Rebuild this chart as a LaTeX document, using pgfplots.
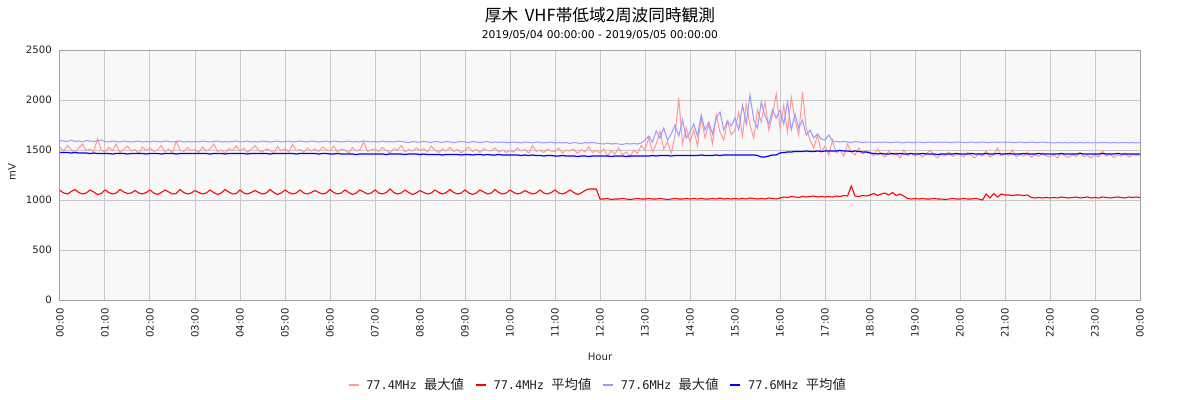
\documentclass[border=0pt]{standalone}
\usepackage{fontspec}
\setmainfont{DejaVu Sans}
\newfontfamily\cjk{Noto Sans CJK JP}
\newfontfamily\mono{DejaVu Sans Mono}
\usepackage{pgfplots}
\usepackage{pgfplotstable}
\pgfplotsset{compat=1.18}
\definecolor{pmax}{HTML}{FF9999}
\definecolor{ravg}{HTML}{FF0000}
\definecolor{bmax}{HTML}{9999FF}
\definecolor{bavg}{HTML}{0000FF}
\definecolor{gridc}{HTML}{C8C8C8}
\definecolor{axc}{HTML}{A0A0A0}
\definecolor{bgc}{HTML}{F8F8F8}
\definecolor{txt}{HTML}{222222}
% columns: p = 77.4MHz max, r = 77.4MHz avg, b = 77.6MHz max, a = 77.6MHz avg ; one row per 5 minutes
\pgfplotstableread{
p r b a
1530 1095 1595 1475
1490 1070 1590 1475
1545 1060 1585 1475
1505 1085 1600 1470
1470 1105 1585 1475
1520 1075 1590 1470
1560 1060 1580 1470
1495 1070 1595 1470
1510 1100 1590 1465
1480 1080 1585 1470
1615 1055 1590 1465
1500 1065 1600 1465
1480 1100 1585 1465
1525 1075 1580 1465
1495 1060 1590 1460
1560 1070 1585 1465
1470 1105 1580 1465
1510 1080 1590 1465
1540 1065 1585 1460
1490 1070 1580 1465
1505 1095 1585 1465
1465 1070 1590 1465
1530 1060 1580 1465
1495 1075 1585 1460
1520 1100 1580 1465
1485 1070 1590 1465
1500 1055 1585 1465
1545 1075 1580 1460
1480 1100 1590 1465
1510 1080 1585 1465
1470 1060 1580 1465
1590 1065 1585 1460
1500 1105 1590 1465
1485 1075 1580 1465
1525 1060 1585 1465
1495 1070 1580 1465
1505 1095 1585 1465
1475 1075 1580 1465
1530 1060 1590 1465
1490 1070 1585 1465
1510 1100 1580 1460
1560 1075 1585 1465
1485 1055 1590 1465
1500 1070 1580 1465
1470 1105 1585 1460
1515 1080 1580 1465
1495 1060 1585 1465
1540 1065 1590 1465
1490 1100 1580 1465
1520 1070 1585 1465
1475 1060 1590 1460
1505 1075 1580 1465
1545 1095 1585 1465
1495 1075 1580 1465
1480 1060 1590 1465
1510 1070 1585 1465
1500 1105 1580 1460
1470 1075 1585 1465
1535 1055 1590 1465
1490 1070 1580 1465
1515 1100 1585 1465
1480 1075 1590 1465
1555 1060 1580 1465
1495 1070 1585 1460
1505 1100 1590 1465
1475 1070 1585 1465
1520 1060 1580 1465
1490 1075 1590 1465
1510 1095 1585 1465
1485 1075 1580 1460
1530 1060 1585 1465
1500 1070 1590 1465
1495 1105 1580 1460
1540 1075 1590 1460
1480 1060 1585 1465
1510 1070 1580 1460
1500 1100 1585 1460
1470 1075 1590 1460
1525 1055 1580 1460
1490 1070 1585 1455
1505 1100 1580 1460
1580 1080 1590 1460
1485 1060 1585 1460
1500 1070 1580 1460
1510 1100 1585 1460
1485 1070 1580 1460
1525 1060 1590 1460
1495 1075 1580 1455
1470 1110 1585 1460
1515 1075 1580 1460
1500 1060 1590 1460
1545 1070 1585 1460
1480 1100 1580 1455
1505 1075 1575 1460
1490 1055 1585 1460
1520 1070 1580 1460
1495 1095 1580 1455
1515 1075 1585 1460
1480 1060 1580 1455
1540 1070 1575 1455
1500 1100 1585 1455
1475 1075 1580 1455
1510 1060 1575 1450
1490 1075 1585 1455
1525 1105 1580 1455
1485 1075 1575 1455
1505 1060 1580 1455
1470 1070 1585 1450
1500 1100 1580 1455
1530 1070 1575 1455
1485 1055 1585 1450
1505 1070 1580 1455
1475 1100 1575 1455
1515 1080 1580 1450
1495 1060 1585 1455
1490 1070 1575 1450
1520 1105 1580 1450
1480 1075 1575 1455
1500 1060 1580 1450
1475 1070 1575 1450
1495 1100 1575 1450
1480 1075 1580 1450
1520 1060 1575 1450
1490 1070 1570 1445
1505 1095 1580 1450
1470 1075 1575 1445
1545 1060 1570 1450
1485 1070 1580 1445
1500 1100 1575 1445
1475 1070 1570 1440
1510 1060 1575 1445
1490 1075 1580 1445
1485 1100 1570 1440
1520 1070 1575 1440
1470 1060 1570 1445
1500 1075 1575 1440
1490 1100 1565 1440
1510 1075 1575 1440
1465 1055 1570 1435
1505 1070 1565 1440
1480 1095 1575 1440
1530 1110 1570 1435
1475 1110 1575 1440
1495 1110 1570 1440
1470 1010 1565 1440
1510 1010 1560 1440
1440 1015 1570 1440
1490 1005 1560 1435
1460 1010 1565 1440
1520 1010 1560 1440
1450 1015 1555 1440
1480 1010 1565 1435
1430 1005 1560 1440
1500 1010 1565 1440
1465 1015 1560 1440
1545 1010 1570 1440
1500 1010 1600 1440
1620 1015 1640 1440
1480 1010 1580 1445
1560 1010 1690 1440
1690 1015 1620 1445
1510 1010 1720 1445
1580 1005 1600 1445
1470 1010 1660 1440
1640 1015 1750 1445
2020 1010 1640 1445
1560 1010 1800 1445
1720 1015 1620 1445
1580 1010 1680 1445
1700 1015 1760 1445
1540 1010 1640 1445
1820 1015 1850 1450
1620 1010 1700 1445
1760 1010 1780 1445
1560 1015 1660 1445
1850 1010 1820 1450
1680 1020 1880 1445
1600 1010 1700 1450
1790 1015 1790 1450
1650 1010 1740 1450
1700 1015 1820 1450
1880 1010 1700 1450
1640 1015 1950 1450
1960 1010 1760 1450
1750 1020 2050 1450
1620 1015 1800 1450
1900 1010 1720 1445
1780 1015 1980 1430
1980 1010 1840 1430
1700 1020 1760 1440
1850 1015 1900 1450
2060 1010 1820 1450
1720 1020 1900 1470
1950 1030 1760 1475
1680 1025 1980 1480
2030 1035 1700 1480
1800 1030 1860 1485
1650 1025 1720 1485
2080 1035 1800 1485
1720 1030 1650 1490
1600 1035 1700 1485
1520 1040 1620 1485
1650 1030 1660 1490
1480 1035 1610 1485
1540 1030 1600 1490
1450 1035 1650 1490
1600 1030 1590 1490
1470 1040 1585 1490
1500 1035 1580 1495
1440 1045 1585 1490
1560 1040 1580 1490
1480 1140 1575 1485
1450 1040 1585 1490
1520 1035 1580 1485
1460 1045 1575 1480
1490 1040 1580 1480
1480 1050 1580 1470
1440 1065 1575 1465
1510 1045 1580 1460
1460 1060 1575 1465
1430 1070 1580 1460
1490 1050 1575 1460
1450 1075 1575 1465
1470 1045 1580 1460
1420 1060 1575 1465
1500 1040 1570 1460
1445 1015 1580 1460
1465 1010 1575 1465
1440 1015 1575 1460
1470 1010 1580 1460
1430 1015 1575 1465
1460 1010 1575 1460
1500 1010 1580 1460
1450 1015 1575 1460
1420 1010 1580 1455
1465 1010 1575 1460
1440 1005 1580 1460
1480 1010 1575 1460
1435 1015 1575 1460
1455 1010 1580 1465
1460 1010 1580 1460
1430 1015 1575 1460
1475 1010 1575 1460
1445 1010 1580 1465
1420 1015 1575 1460
1465 1010 1575 1460
1440 1000 1580 1460
1490 1060 1575 1465
1430 1020 1575 1460
1455 1065 1580 1460
1520 1030 1575 1465
1440 1060 1580 1460
1470 1050 1575 1460
1445 1050 1580 1465
1500 1045 1575 1460
1430 1050 1575 1460
1460 1050 1580 1460
1440 1045 1575 1465
1480 1050 1575 1460
1425 1025 1580 1460
1455 1020 1575 1460
1435 1025 1575 1465
1470 1020 1580 1460
1440 1025 1575 1460
1430 1020 1575 1460
1450 1025 1570 1460
1420 1020 1575 1460
1465 1030 1570 1465
1440 1025 1575 1460
1425 1020 1570 1460
1455 1025 1575 1460
1435 1030 1570 1460
1480 1020 1575 1465
1430 1025 1570 1460
1445 1030 1575 1460
1420 1020 1570 1460
1450 1025 1575 1460
1430 1020 1570 1460
1490 1030 1575 1465
1440 1025 1575 1460
1460 1020 1570 1460
1425 1025 1575 1460
1450 1030 1570 1465
1440 1025 1575 1460
1470 1020 1575 1460
1430 1030 1570 1460
1455 1025 1575 1460
1445 1030 1570 1460
1450 1025 1575 1460
}\data
\begin{document}
\begin{tikzpicture}
\path[use as bounding box] (-45pt,-75pt) rectangle (855pt,225pt);
\begin{axis}[
  at={(0pt,0pt)}, anchor=south west,
  width=810pt, height=187.5pt, scale only axis=true,
  xmin=0, xmax=24, ymin=0, ymax=2500,
  xtick={0,1,...,24},
  xticklabels={00:00,01:00,02:00,03:00,04:00,05:00,06:00,07:00,08:00,09:00,10:00,11:00,12:00,13:00,14:00,15:00,16:00,17:00,18:00,19:00,20:00,21:00,22:00,23:00,00:00},
  ytick={0,500,...,2500},
  /pgf/number format/1000 sep={},
  /pgf/number format/assume math mode=true,
  major tick length=0pt,
  grid=major,
  major grid style={draw=gridc, line width=0.75pt},
  axis line style={draw=axc, line width=0.75pt},
  axis background/.style={fill=bgc},
  tick label style={font=\fontsize{7.6}{9}\selectfont, text=txt},
  xticklabel style={rotate=90, anchor=east, inner sep=0pt},
  yticklabel style={anchor=east, inner sep=0pt},
  xticklabel shift=6pt,
  yticklabel shift=6pt,
  xlabel={Hour},
  xlabel style={at={(axis description cs:0.5,-0.228)}, anchor=center, font=\fontsize{7.6}{9}\selectfont, text=txt},
  ylabel={mV},
  ylabel style={at={(axis description cs:-0.0444,0.512)}, anchor=center, rotate=0, font=\fontsize{7.6}{9}\selectfont, text=txt},
  legend columns=4,
  legend style={at={(axis description cs:0.5,-0.34)}, anchor=center, draw=none, fill=none,
    font=\fontsize{9}{10}\selectfont, text=txt,
    nodes={inner xsep=5pt},
    /tikz/every even column/.append style={column sep=3pt}},
  legend image code/.code={\draw[#1, line width=1.6pt] (0pt,0pt) -- (7.5pt,0pt);},
  clip=true,
]
\addplot[pmax, line width=0.75pt] table[x expr=\coordindex/12, y=p] {\data};
\addlegendentry{{\mono 77.4MHz\ }{\cjk\fontsize{10}{10}\selectfont 最大値}}
\addplot[ravg, line width=0.8pt] table[x expr=\coordindex/12, y=r] {\data};
\addlegendentry{{\mono 77.4MHz\ }{\cjk\fontsize{10}{10}\selectfont 平均値}}
\addplot[bmax, line width=0.75pt] table[x expr=\coordindex/12, y=b] {\data};
\addlegendentry{{\mono 77.6MHz\ }{\cjk\fontsize{10}{10}\selectfont 最大値}}
\addplot[bavg, line width=0.9pt] table[x expr=\coordindex/12, y=a] {\data};
\addlegendentry{{\mono 77.6MHz\ }{\cjk\fontsize{10}{10}\selectfont 平均値}}
\end{axis}
\node[anchor=center, text=black, font=\cjk\fontsize{12.5}{15}\selectfont] at (405pt,213.75pt) {厚木\hspace{0.4em}VHF帯低域2周波同時観測};
\node[anchor=center, text=black, font=\fontsize{8}{9}\selectfont] at (405pt,198.75pt) {2019/05/04 00:00:00 - 2019/05/05 00:00:00};
\end{tikzpicture}
\end{document}
